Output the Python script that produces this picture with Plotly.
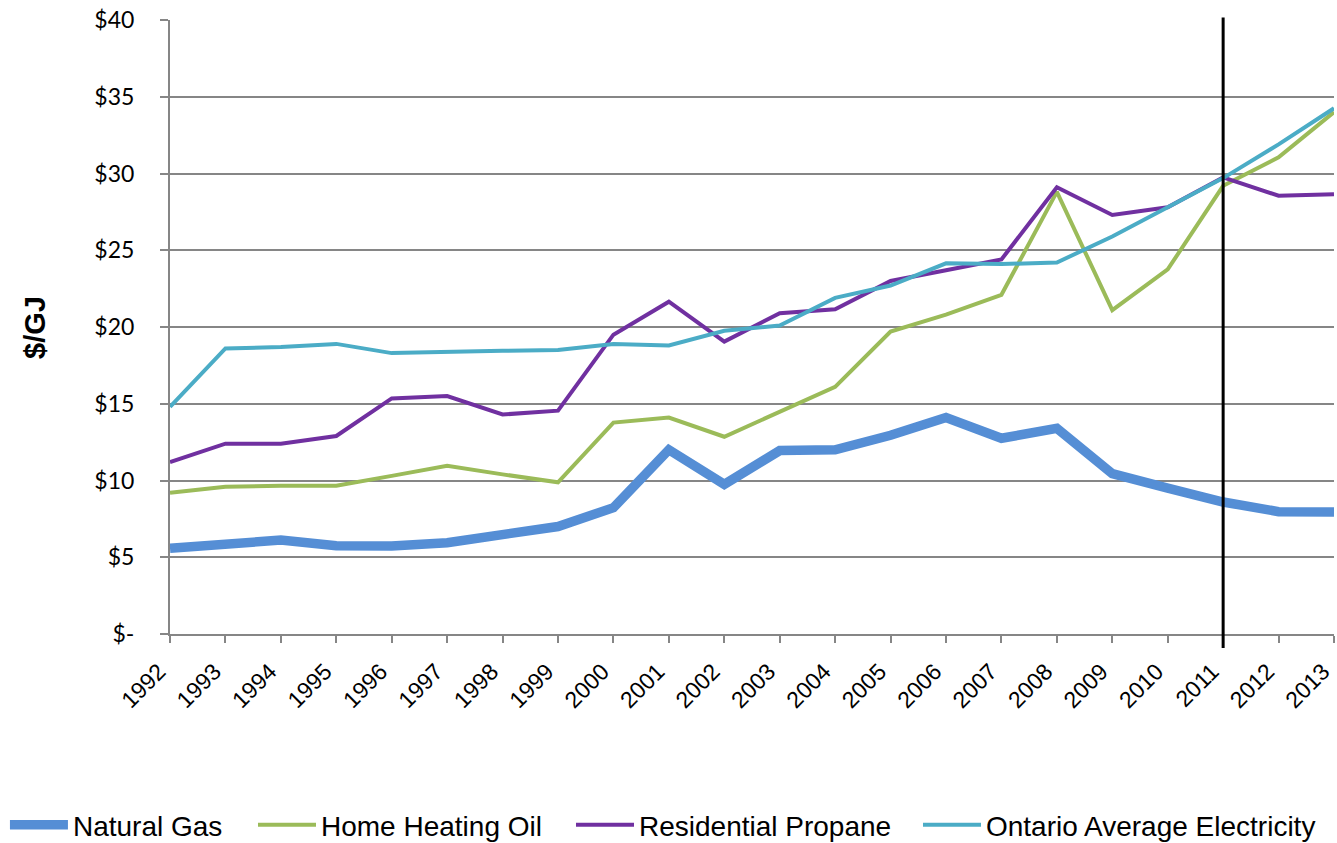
import plotly.graph_objects as go

years = list(range(1992, 2014))
natural_gas = [5.58, 5.8, 6.12, 5.75, 5.73, 5.95, 6.5, 7.0, 8.23, 12.0, 9.75, 11.95, 12.0, 12.95,
               14.1, 12.75, 13.4, 10.45, 9.5, 8.6, 7.97, 7.95]
home_heating_oil = [9.2, 9.6, 9.66, 9.66, 10.3, 10.96, 10.4, 9.88, 13.77, 14.1, 12.85, 14.5, 16.1, 19.7,
                    20.8, 22.1, 28.8, 21.1, 23.75, 29.2, 31.05, 34.0]
residential_propane = [11.2, 12.4, 12.4, 12.9, 15.35, 15.5, 14.3, 14.55, 19.5, 21.65, 19.05, 20.9, 21.15, 23.0,
                       23.7, 24.4, 29.1, 27.3, 27.8, 29.75, 28.55, 28.65]
ontario_electricity = [14.8, 18.6, 18.7, 18.9, 18.3, 18.4, 18.45, 18.5, 18.9, 18.8, 19.75, 20.1, 21.9, 22.7,
                       24.15, 24.1, 24.2, 25.9, 27.8, 29.7, 31.9, 34.25]
y_ticks = [0, 5, 10, 15, 20, 25, 30, 35, 40]
y_tick_text = ["$-", "$5", "$10", "$15", "$20", "$25", "$30", "$35", "$40"]
marker_year = 2011

series = [
    ("Natural Gas", natural_gas, "#558ED5", 9.5, "legend", -0.1418),
    ("Home Heating Oil", home_heating_oil, "#9BBB59", 4, "legend2", 0.0713),
    ("Residential Propane", residential_propane, "#7030A0", 4, "legend3", 0.3445),
    ("Ontario Average Electricity", ontario_electricity, "#4BACC6", 4, "legend4", 0.6426),
]

fig = go.Figure()
legend_layout = {}
for name, vals, color, w, lg, lx in series:
    fig.add_trace(go.Scatter(x=years, y=vals, mode="lines", name=name, legend=lg,
                             line=dict(color=color, width=w)))
    legend_layout[lg] = dict(orientation="h", x=lx, xanchor="left", y=-0.311, yanchor="middle",
                             font=dict(family="Liberation Sans, Arial", size=28, color="black"),
                             itemwidth=58, bgcolor="rgba(0,0,0,0)")

fig.add_shape(type="line", xref="x", yref="paper", x0=marker_year, x1=marker_year,
              y0=-0.023, y1=1.004, line=dict(color="black", width=3))

fig.add_annotation(text="<b>$/GJ</b>", xref="paper", yref="paper", x=-0.116, y=0.5,
                   xanchor="center", yanchor="middle",
                   textangle=-90, showarrow=False,
                   font=dict(family="Liberation Sans, Arial", size=29, color="black"))

fig.update_layout(
    width=1337, height=843,
    margin=dict(l=170, r=3, t=20, b=209, autoexpand=False),
    paper_bgcolor="white", plot_bgcolor="white",
    showlegend=True,
    **legend_layout,
    xaxis=dict(range=[1992, 2013], tickvals=years, ticktext=[str(y) for y in years],
               tickangle=-45, showgrid=False, showline=True, linecolor="#868686", linewidth=2,
               ticks="outside", ticklen=7, tickcolor="#868686", tickwidth=2,
               ticklabelstandoff=6, ticklabelshift=-11,
               tickfont=dict(family="Liberation Sans, Arial", size=23, color="black"),
               automargin=False, ticklabeloverflow="allow", zeroline=False),
    yaxis=dict(range=[0, 40], tickvals=y_ticks, ticktext=y_tick_text,
               showgrid=True, gridcolor="#868686", gridwidth=2,
               showline=True, linecolor="#868686", linewidth=2,
               ticks="outside", ticklen=8, tickcolor="#868686", tickwidth=2,
               ticklabelstandoff=21, automargin=False, ticklabeloverflow="allow",
               tickfont=dict(family="Lato, Carlito, sans-serif", size=23, color="black"),
               zeroline=False),
)

fig.write_html("out.html", config={"displayModeBar": False},
               post_script="document.body.style.margin='0px';document.body.style.overflow='hidden';")
